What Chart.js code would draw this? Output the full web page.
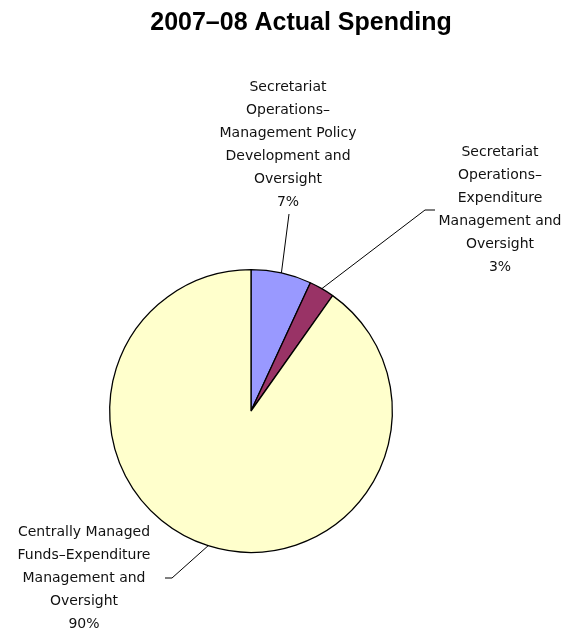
<!DOCTYPE html>
<html><head><meta charset="utf-8">
<script src="https://cdn.jsdelivr.net/npm/chart.js@4/dist/chart.umd.min.js"></script>
<style>html,body{margin:0;padding:0;background:#fff}#wrap{width:565px;height:630px}</style>
</head><body><div id="wrap"><canvas id="c" width="565" height="630"></canvas></div>
<script>
const title = "2007\u201308 Actual Spending";
const categories = [
  ["Secretariat","Operations\u2013","Management Policy","Development and","Oversight"],
  ["Secretariat","Operations\u2013","Expenditure","Management and","Oversight"],
  ["Centrally Managed","Funds\u2013Expenditure","Management and","Oversight"]
];
const values = [6.9, 2.9, 90.2];
const colors = ["#9999FF", "#993366", "#FFFFCC"];
// label placement (offsets from pie centre, px): text centre x, text top y, elbow, line end
const labelLayout = [
  {tx: 37, ty: -324, elbow: null, end: [38, -197]},
  {tx: 249, ty: -259, elbow: [174, -201], end: [184, -201]},
  {tx: -167, ty: 121, elbow: [-79, 167], end: [-86, 167]}
];

const labelPlugin = {
  id: 'labels',
  afterDraw(chart) {
    const ctx = chart.ctx;
    const meta = chart.getDatasetMeta(0);
    const total = values.reduce((a,b)=>a+b,0);
    ctx.save();
    // title
    ctx.fillStyle = '#000';
    ctx.font = 'bold 25px "Liberation Sans", Arial, sans-serif';
    ctx.textAlign = 'center';
    ctx.textBaseline = 'middle';
    ctx.fillText(title, 301, 23);
    meta.data.forEach((arc, i) => {
      const cx = arc.x, cy = arc.y, r = arc.outerRadius;
      const mid = (arc.startAngle + arc.endAngle) / 2;
      const sx = cx + Math.cos(mid) * r, sy = cy + Math.sin(mid) * r;
      const L = labelLayout[i];
      ctx.strokeStyle = '#000';
      ctx.lineWidth = 1;
      ctx.beginPath();
      ctx.moveTo(sx, sy);
      if (L.elbow) ctx.lineTo(cx + L.elbow[0], cy + L.elbow[1]);
      ctx.lineTo(cx + L.end[0], cy + L.end[1]);
      ctx.stroke();
      const lines = categories[i].concat([Math.round(values[i] / total * 100) + '%']);
      ctx.font = '14px "DejaVu Sans", Verdana, sans-serif';
      ctx.fillStyle = '#111';
      lines.forEach((t, k) => ctx.fillText(t, cx + L.tx, cy + L.ty + k * 23));
    });
    ctx.restore();
  }
};

new Chart(document.getElementById('c'), {
  type: 'pie',
  data: {
    labels: categories.map(c => c.join(' ')),
    datasets: [{
      data: values,
      backgroundColor: colors,
      borderColor: '#000',
      borderWidth: 1.3
    }]
  },
  options: {
    responsive: false,
    animation: false,
    layout: {padding: {left: 109, right: 172, top: 269, bottom: 77}},
    plugins: {legend: {display: false}, tooltip: {enabled: false}, title: {display: false}}
  },
  plugins: [labelPlugin]
});
</script></body></html>
